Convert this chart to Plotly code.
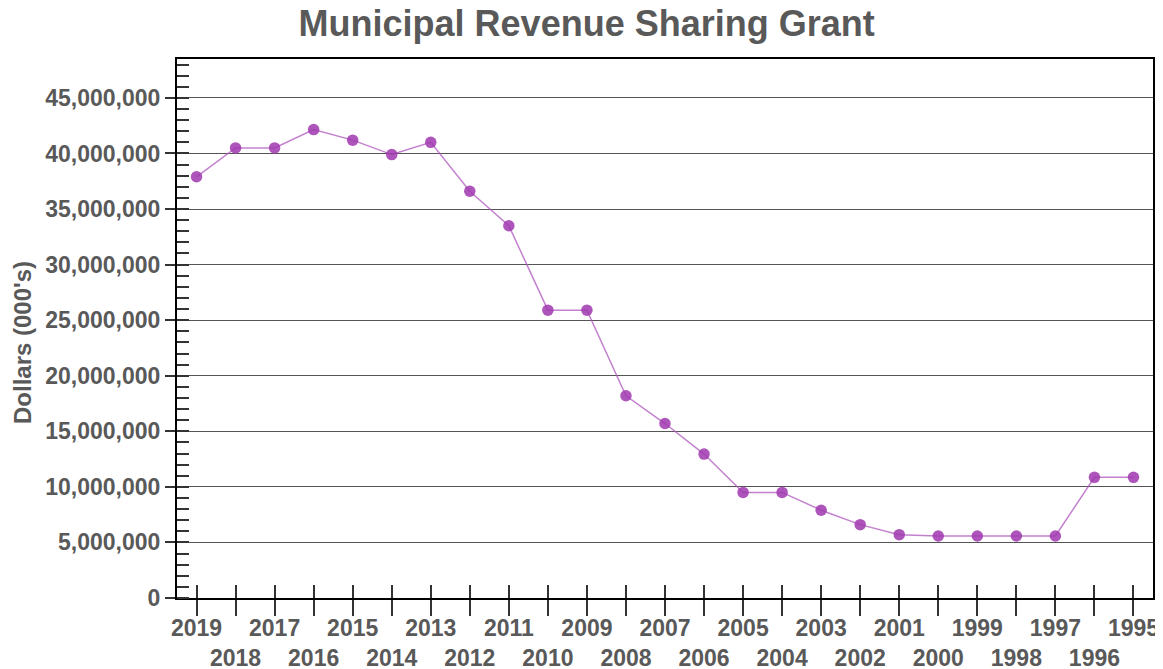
import plotly.graph_objects as go

# Grant amounts by fiscal year
years = ['2019', '2018', '2017', '2016', '2015', '2014', '2013', '2012', '2011', '2010',
         '2009', '2008', '2007', '2006', '2005', '2004', '2003', '2002', '2001', '2000',
         '1999', '1998', '1997', '1996', '1995']
amounts = [37900000, 40500000, 40500000, 42150000, 41200000, 39900000, 41000000, 36600000,
           33500000, 25900000, 25900000, 18200000, 15700000, 12950000, 9500000, 9500000,
           7900000, 6600000, 5700000, 5580000, 5580000, 5580000, 5580000, 10860000, 10860000]

# alternate labels between two rows
tick_text = [y if i % 2 == 0 else '<br>' + y for i, y in enumerate(years)]

grey = '#595959'
font_lbl = dict(family='Liberation Sans, Arial', size=23, color=grey, weight='bold')

# page body has an 8px margin, so the figure is a bit smaller than the window
W, H = 1155, 661
ML, MR, MT, MB = 169, 10, 51, 71

fig = go.Figure()

fig.add_trace(go.Scatter(
    x=years, y=amounts,
    mode='lines+markers',
    line=dict(color='rgba(175,85,190,0.75)', width=1.5),
    marker=dict(color='rgba(160,55,175,0.85)', size=11.5),
    hovertemplate='%{x}: %{y:,.0f}<extra></extra>',
    showlegend=False,
))

# invisible trace on overlay axis for the inside x ticks
fig.add_trace(go.Scatter(
    x=years, y=amounts, xaxis='x2', mode='markers',
    marker=dict(opacity=0), hoverinfo='skip', showlegend=False,
))

plot_w = W - ML - MR
plot_h = H - MT - MB

fig.update_layout(
    width=W, height=H,
    margin=dict(l=ML, r=MR, t=MT, b=MB),
    paper_bgcolor='white', plot_bgcolor='white',
    title=dict(text='<b>Municipal Revenue Sharing Grant</b>',
               font=dict(family='Liberation Sans, Arial', size=36, color=grey),
               x=0.501, xanchor='center', y=1 - 15 / H, yanchor='middle'),
    xaxis=dict(
        type='category', categoryorder='array', categoryarray=years,
        range=[-0.5, len(years) - 0.5], automargin=False,
        tickmode='array', tickvals=years, ticktext=tick_text, tickangle=0,
        ticks='outside', ticklen=16, tickwidth=1.5, tickcolor='#333',
        ticklabelstandoff=-8,
        tickfont=font_lbl,
        showgrid=False, zeroline=False,
        showline=True, linecolor='black', linewidth=2, mirror=True,
    ),
    xaxis2=dict(
        type='category', categoryorder='array', categoryarray=years,
        range=[-0.5, len(years) - 0.5], overlaying='x', anchor='y', side='bottom',
        tickmode='array', tickvals=years, showticklabels=False, automargin=False,
        ticks='inside', ticklen=13, tickwidth=1.5, tickcolor='#333',
        showgrid=False, zeroline=False, showline=False,
    ),
    yaxis=dict(
        range=[0, 48500000], dtick=5000000, tickformat=',d', automargin=False,
        ticks='outside', ticklen=10, tickwidth=1.5, tickcolor='#333',
        minor=dict(dtick=1000000, ticks='inside', ticklen=12, tickwidth=1.5, tickcolor='#333',
                   showgrid=False),
        tickfont=font_lbl,
        showgrid=True, gridcolor='#555', gridwidth=1,
        zeroline=False,
        showline=True, linecolor='black', linewidth=2, mirror=True,
    ),
    annotations=[dict(
        text='<b>Dollars (000\'s)</b>', textangle=-90, showarrow=False,
        xref='paper', yref='paper', x=(14 - ML) / plot_w, y=(H - MB - 335) / plot_h,
        xanchor='center', yanchor='middle',
        font=dict(family='Liberation Sans, Arial', size=24, color=grey),
    )],
)

fig.write_html('out.html')
